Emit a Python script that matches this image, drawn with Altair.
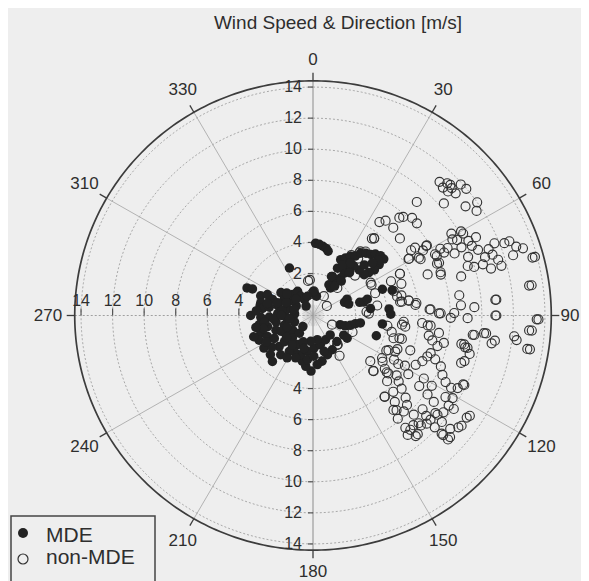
import altair as alt
import numpy as np
import pandas as pd

# ---------------- data ----------------
TITLE = "Wind Speed & Direction [m/s]"
SERIES = ["MDE", "non-MDE"]
ANGLE_TICKS = [0, 30, 60, 90, 120, 150, 180, 210, 240, 270, 300, 330]
ANGLE_LABELS = ["0", "30", "60", "90", "120", "150", "180", "210", "240", "270", "310", "330"]
RING_SPEEDS = [2, 4, 6, 8, 10, 12, 14]
OUTER_SPEED = 14.4

MDE_DIR = [
    2, 5, 8, 11, 13, 334, 26, 29, 32, 35,
    37, 40, 43, 45, 48, 51, 52, 53, 52, 51,
    45, 45, 39, 38, 36, 36, 34, 32, 32, 27,
    26, 27, 30, 49, 48, 35, 67, 74, 36, 25,
    39, 40, 10, 1, 311, 325, 336, 281, 64, 72,
    75, 73, 83, 69, 72, 85, 89, 97, 108, 109,
    108, 105, 101, 99, 123, 124, 138, 151, 160, 169,
    175, 182, 188, 193, 197, 189, 178, 166, 153, 170,
    185, 208, 207, 202, 187, 179, 163, 139, 293, 294,
    270, 291, 295, 284, 278, 268, 260, 251, 245, 236,
    227, 221, 245, 256, 268, 281, 292, 306, 300, 286,
    273, 260, 248, 239, 227, 227, 236, 251, 267, 285,
    302, 316, 328, 328, 300, 275, 251, 234, 222, 217,
    222, 332, 344, 324, 219, 213, 211, 262, 275, 285,
    255, 265, 280, 290, 243, 232, 250, 240, 258, 270,
    296, 310, 315, 288, 262, 246, 230, 215, 200, 195,
]
MDE_SPEED = [
    3.95, 3.9, 3.8, 3.7, 3.55, 2.7, 3.3, 3.54, 3.79, 3.97,
    4.33, 4.53, 4.67, 4.89, 5.05, 5.07, 4.62, 4.17, 3.79, 3.47,
    3.45, 3.9, 3.4, 3.03, 2.67, 2.28, 2.07, 1.78, 1.39, 1.52,
    2.1, 2.72, 3.06, 4.75, 4.37, 3.44, 1.47, 2.38, 1.64, 2.07,
    2.15, 2.9, 0.56, 0.85, 1.51, 1.08, 0.53, 2.71, 1.7, 1.68,
    2.63, 2.9, 2.97, 4.01, 4.58, 4.14, 4.23, 3.73, 3.52, 1.12,
    1.45, 1.75, 2.04, 2.34, 1.62, 1.91, 1.56, 1.82, 1.98, 2.3,
    2.47, 2.88, 2.6, 2.32, 1.94, 1.63, 1.39, 1.24, 1.05, 0.88,
    0.97, 1.42, 1.9, 2.24, 2.16, 1.92, 1.71, 0.96, 3.84, 3.5,
    3.25, 2.85, 2.49, 2.71, 2.53, 2.61, 2.77, 2.8, 3.07, 3.05,
    2.99, 3.22, 2.49, 2.27, 2.07, 2.12, 2.07, 1.81, 1.4, 1.62,
    1.54, 1.68, 1.83, 2.16, 2.23, 1.77, 1.36, 1.22, 1.01, 0.95,
    1.07, 1.17, 1.14, 0.76, 0.53, 0.47, 0.54, 0.89, 1.25, 0.73,
    0.26, 0.47, 0.59, 0.05, 2.55, 2.06, 2.48, 2.4, 2.9, 2.3,
    2.55, 1.8, 1.3, 1.7, 1.55, 2.6, 3.3, 2.7, 3.0, 1.3,
    1.2, 1.45, 0.8, 0.55, 0.8, 1.1, 1.5, 1.6, 1.1, 1.5,
]

NON_DIR = [
    43, 45, 47, 47, 48, 50, 49, 49, 54, 55,
    57, 42, 46, 45, 35, 37, 42, 41, 42, 45,
    48, 48, 38, 61, 61, 62, 64, 64, 66, 65,
    63, 62, 64, 67, 64, 66, 69, 68, 71, 69,
    68, 71, 73, 75, 75, 73, 75, 72, 72, 73,
    69, 69, 71, 72, 73, 75, 82, 85, 91, 60,
    59, 58, 59, 56, 61, 59, 64, 82, 89, 86,
    91, 91, 87, 90, 87, 89, 81, 81, 84, 77,
    86, 94, 99, 97, 98, 96, 97, 101, 102, 104,
    107, 115, 123, 127, 132, 133, 133, 134, 139, 140,
    136, 135, 137, 139, 137, 139, 134, 128, 122, 116,
    113, 110, 108, 110, 112, 115, 117, 118, 121, 124,
    124, 127, 129, 130, 130, 126, 125, 121, 120, 124,
    130, 132, 132, 133, 127, 128, 120, 119, 115, 114,
    110, 106, 105, 96, 94, 81, 94, 95, 98, 102,
    102, 104, 100, 129, 122, 126, 134, 131, 132, 138,
    122, 117, 352, 357, 37, 58, 56, 59, 62, 64,
    73, 77, 81, 83, 70, 62, 38, 32, 36, 46,
    87, 89, 95, 97, 105, 112, 116, 119, 124, 128,
    133, 139, 140, 141, 141, 140, 142, 136, 140, 116,
    147, 113, 355, 2, 29, 55, 41, 38, 39, 36,
    60, 66, 88, 81, 98, 102, 141, 171, 63, 67,
    71, 70, 132, 129, 133, 133, 128, 124, 85, 90,
    99, 96, 99, 94, 91, 82, 75, 97, 96, 101,
    102, 108, 115, 70,
]
NON_SPEED = [
    11.06, 10.94, 11.0, 11.32, 11.9, 11.98, 11.28, 10.29, 11.25, 12.0,
    11.66, 9.13, 11.4, 11.33, 6.64, 6.94, 6.9, 7.64, 7.84, 8.18,
    8.16, 6.71, 5.59, 10.18, 9.4, 9.64, 10.26, 10.79, 10.32, 9.68,
    8.87, 8.44, 8.03, 7.98, 8.54, 9.12, 9.83, 10.58, 10.83, 11.22,
    11.7, 11.33, 11.57, 11.66, 10.98, 9.98, 9.02, 7.82, 9.61, 10.56,
    12.29, 12.63, 12.92, 13.29, 12.56, 13.86, 13.29, 10.96, 13.59, 10.13,
    9.53, 7.81, 7.43, 6.8, 6.97, 6.36, 5.43, 8.66, 8.25, 8.7,
    9.1, 8.03, 9.54, 10.92, 6.76, 7.39, 5.0, 5.44, 5.83, 4.77,
    2.7, 13.2, 13.22, 12.3, 10.94, 10.33, 9.6, 9.06, 9.31, 9.53,
    9.34, 9.88, 11.15, 11.09, 10.99, 10.45, 9.85, 9.32, 9.42, 8.9,
    8.94, 8.33, 7.74, 7.37, 6.9, 6.23, 6.37, 6.19, 6.42, 6.54,
    6.83, 7.01, 7.14, 7.54, 8.04, 8.35, 8.73, 9.21, 9.62, 9.67,
    10.06, 9.65, 9.45, 9.96, 10.65, 8.76, 8.16, 8.08, 7.41, 7.42,
    6.63, 7.2, 5.62, 4.55, 5.0, 5.36, 5.54, 5.96, 4.58, 5.01,
    5.86, 4.61, 5.13, 4.97, 5.06, 4.89, 6.23, 6.78, 7.36, 7.78,
    7.03, 7.43, 6.75, 3.97, 4.46, 5.85, 7.58, 8.5, 8.95, 8.8,
    9.2, 9.59, 1.55, 0.7, 5.5, 7.76, 7.1, 6.4, 7.02, 5.43,
    4.65, 5.05, 5.45, 5.9, 3.49, 3.5, 3.95, 3.88, 4.4, 3.0,
    6.7, 7.29, 6.6, 5.19, 4.97, 5.07, 4.47, 5.17, 4.62, 5.23,
    4.52, 6.21, 7.23, 7.84, 8.6, 9.43, 9.05, 9.14, 1.74, 0.64,
    2.39, 2.02, 1.6, 0.85, 0.72, 0.37, 1.65, 5.6, 4.6, 4.27,
    3.52, 4.71, 2.84, 3.42, 4.06, 4.4, 1.73, 1.74, 7.98, 7.84,
    7.85, 7.03, 9.32, 9.28, 10.58, 11.0, 10.99, 11.05, 10.9, 10.86,
    10.76, 12.12, 13.05, 13.03, 13.48, 13.13, 13.7, 9.5, 10.2, 8.88,
    9.16, 9.17, 9.8, 5.26,
]

# ---------------- geometry / style ----------------
OFF = 0.7                 # radial offset of the speed axis (m/s)
KX, KY = 15.78, 15.54     # pixels per m/s horizontally / vertically
W, H = 573, 573
CX, CY = 305.0, 307.5     # pole position inside the view
XS = alt.Scale(domain=[-CX / KX, (W - CX) / KX], nice=False, zero=False)
YS = alt.Scale(domain=[-(H - CY) / KY, CY / KY], nice=False, zero=False)
FONT = "Liberation Sans"
INK = "#2e2e2e"
BG = "#eeeeee"


def X(f="px"):
    return alt.X(f"{f}:Q", scale=XS, axis=None)


def Y(f="py"):
    return alt.Y(f"{f}:Q", scale=YS, axis=None)


def pol(r, a_deg):
    a = np.deg2rad(a_deg)
    return r * np.sin(a), r * np.cos(a)


# grid rings
ring_rows = []
for s in RING_SPEEDS:
    for a in range(0, 361, 2):
        x, y = pol(s + OFF, a)
        ring_rows.append({"ring": s, "a": a, "px": x, "py": y})
rings = alt.Chart(pd.DataFrame(ring_rows)).mark_line(
    color="#a0a0a0", strokeWidth=0.9, strokeDash=[2, 2]
).encode(x=X(), y=Y(), detail="ring:N", order="a:Q")

outer_rows = []
for a in range(0, 361, 1):
    x, y = pol(OUTER_SPEED + OFF, a)
    outer_rows.append({"a": a, "px": x, "py": y})
outer = alt.Chart(pd.DataFrame(outer_rows)).mark_line(
    color="#3c3c3c", strokeWidth=1.7
).encode(x=X(), y=Y(), order="a:Q")

# spokes every 30 deg (not the main axes)
spoke_rows = []
for a in ANGLE_TICKS:
    if a % 90 == 0:
        continue
    x1, y1 = pol(OUTER_SPEED + OFF, a)
    spoke_rows.append({"px": 0.0, "py": 0.0, "px2": x1, "py2": y1})
spokes = alt.Chart(pd.DataFrame(spoke_rows)).mark_rule(
    color="#acacac", strokeWidth=0.9
).encode(x=X(), y=Y(), x2="px2:Q", y2="py2:Q")

# small minor rays near the pole
minor_rows = []
for a in range(0, 360, 10):
    x1, y1 = pol(OFF, a)
    minor_rows.append({"px": 0.0, "py": 0.0, "px2": x1, "py2": y1})
minor = alt.Chart(pd.DataFrame(minor_rows)).mark_rule(
    color="#c0c0c0", strokeWidth=0.6
).encode(x=X(), y=Y(), x2="px2:Q", y2="py2:Q")

R_OUT = OUTER_SPEED + OFF
vaxis = alt.Chart(pd.DataFrame({"px": [0.0], "py": [-R_OUT], "py2": [R_OUT]})).mark_rule(
    color="#8c8c8c", strokeWidth=1
).encode(x=X(), y=Y(), y2="py2:Q")
haxis = alt.Chart(pd.DataFrame({"px": [-R_OUT], "px2": [R_OUT], "py": [0.0]})).mark_rule(
    color="#a0a0a0", strokeWidth=1, strokeDash=[2, 2]
).encode(x=X(), y=Y(), x2="px2:Q")

# outer ticks
otick_rows = []
for a in ANGLE_TICKS:
    ar = np.deg2rad(a)
    otick_rows.append({
        "px": R_OUT * np.sin(ar), "py": R_OUT * np.cos(ar),
        "px2": (R_OUT + 8 / KX) * np.sin(ar), "py2": (R_OUT + 8 / KY) * np.cos(ar),
    })
oticks = alt.Chart(pd.DataFrame(otick_rows)).mark_rule(
    color="#3c3c3c", strokeWidth=1.3
).encode(x=X(), y=Y(), x2="px2:Q", y2="py2:Q")

# angle labels
lab_rows = []
for a, t in zip(ANGLE_TICKS, ANGLE_LABELS):
    ar = np.deg2rad(a)
    rl = 256 + 9 * abs(np.sin(ar))
    if a == 90:
        rl = 257  # keep it inside the page
    lab_rows.append({"px": rl / KX * np.sin(ar), "py": rl / KY * np.cos(ar), "t": t})
alabels = alt.Chart(pd.DataFrame(lab_rows)).mark_text(
    font=FONT, fontSize=17, color=INK, align="center", baseline="middle"
).encode(x=X(), y=Y(), text="t:N")

# radial axis ticks + labels (vertical axis, both halves; left half of horizontal axis)
vt_rows, vl_rows, ht_rows, hl_rows = [], [], [], []
for s in RING_SPEEDS:
    for sign in (1, -1):
        vt_rows.append({"px": 0.0, "px2": -5 / KX, "py": sign * (s + OFF)})
        vl_rows.append({"px": 0.0, "py": sign * (s + OFF), "t": str(s)})
    ht_rows.append({"px": -(s + OFF), "py": 0.0, "py2": 7 / KY})
    hl_rows.append({"px": -(s + OFF), "py": 0.0, "t": str(s)})
vticks = alt.Chart(pd.DataFrame(vt_rows)).mark_rule(color="#555555", strokeWidth=1.2).encode(
    x=X(), y=Y(), x2="px2:Q")
vlabels = alt.Chart(pd.DataFrame(vl_rows)).mark_text(
    font=FONT, fontSize=16, color=INK, align="right", baseline="middle", dx=-11
).encode(x=X(), y=Y(), text="t:N")
hticks = alt.Chart(pd.DataFrame(ht_rows)).mark_rule(color="#555555", strokeWidth=1.2).encode(
    x=X(), y=Y(), y2="py2:Q")
hlabels = alt.Chart(pd.DataFrame(hl_rows)).mark_text(
    font=FONT, fontSize=16, color=INK, align="center", baseline="alphabetic", dy=-10
).encode(x=X(), y=Y(), text="t:N")

# data points
pts = pd.DataFrame({
    "dir": MDE_DIR + NON_DIR,
    "speed": MDE_SPEED + NON_SPEED,
    "group": [SERIES[0]] * len(MDE_DIR) + [SERIES[1]] * len(NON_DIR),
})
base = alt.Chart(pts).transform_calculate(
    px=f"(datum.speed + {OFF}) * sin(datum.dir * PI / 180)",
    py=f"(datum.speed + {OFF}) * cos(datum.dir * PI / 180)",
)
open_pts = base.transform_filter(f"datum.group == '{SERIES[1]}'").mark_point(
    shape="circle", filled=False, size=82, stroke="#333333", strokeWidth=1.15, opacity=1
).encode(x=X(), y=Y())
filled_pts = base.transform_filter(f"datum.group == '{SERIES[0]}'").mark_point(
    shape="circle", filled=True, size=90, color="#222222", opacity=1
).encode(x=X(), y=Y())

# title
title = alt.Chart(pd.DataFrame({"t": [TITLE]})).mark_text(
    font=FONT, fontSize=19, color=INK, align="center", baseline="alphabetic"
).encode(x=alt.value(330), y=alt.value(20.5), text="t:N")

# legend (drawn by hand)
leg_box = alt.Chart(pd.DataFrame({"k": [0]})).mark_rect(
    fill=BG, stroke="#444444", strokeWidth=1.5
).encode(x=alt.value(3), x2=alt.value(147), y=alt.value(508), y2=alt.value(585))
leg_df = pd.DataFrame({"t": SERIES})
leg_fill = alt.Chart(leg_df).transform_filter(f"datum.t == '{SERIES[0]}'").mark_point(
    shape="circle", filled=True, size=100, color="#222222", opacity=1
).encode(x=alt.value(15), y=alt.value(525))
leg_open = alt.Chart(leg_df).transform_filter(f"datum.t == '{SERIES[1]}'").mark_point(
    shape="circle", filled=False, size=100, stroke="#333333", strokeWidth=1.2, opacity=1
).encode(x=alt.value(15), y=alt.value(551))
leg_t1 = alt.Chart(leg_df).transform_filter(f"datum.t == '{SERIES[0]}'").mark_text(
    font=FONT, fontSize=21, color=INK, align="left", baseline="alphabetic"
).encode(x=alt.value(38), y=alt.value(533.5), text="t:N")
leg_t2 = alt.Chart(leg_df).transform_filter(f"datum.t == '{SERIES[1]}'").mark_text(
    font=FONT, fontSize=21, color=INK, align="left", baseline="alphabetic"
).encode(x=alt.value(38), y=alt.value(555.5), text="t:N")

chart = alt.layer(
    rings, spokes, minor, haxis, vaxis, outer, oticks, alabels,
    vticks, hticks, vlabels, hlabels,
    open_pts, filled_pts,
    title, leg_box, leg_fill, leg_open, leg_t1, leg_t2,
).properties(
    width=W, height=H, autosize="none", padding=0, background=BG
).configure_view(stroke=None)

chart.save("out.html", embed_options={"renderer": "svg", "actions": False})
